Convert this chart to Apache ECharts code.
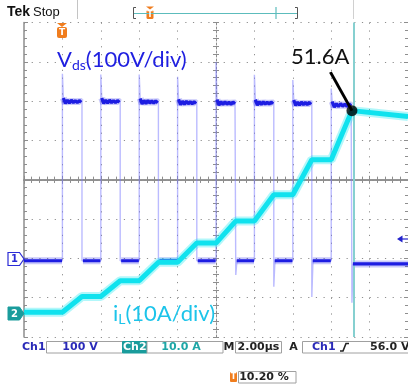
<!DOCTYPE html>
<html><head><meta charset="utf-8">
<script src="https://cdn.jsdelivr.net/npm/echarts@6/dist/echarts.min.js"></script>
<style>html,body{margin:0;padding:0;background:#fff}#c{width:408px;height:385px}</style>
</head><body><div id="c"></div>
<script>
// ---- data ----
// time axis: 2 µs/div, 10 divisions
const timeMin = 0, timeMax = 20, timeDiv = 2;
// Ch1 (Vds, 100 V/div) switching pulses
const pulseStart = [2, 4, 6, 8, 10, 12, 14, 16];
const pulseEnd   = [3.02, 5.01, 7.0, 9.0, 11.03, 13.01, 14.99, 17.08];
const highV      = [399, 399, 398, 396, 395, 395, 394, 390];
const spikeTopV  = [470, 468, 468, 462, 500, 467, 454, 432];
const undershootV= [-6, -6, -6, -6, -42, -72, -98, -113];
const rippleV    = [9, -5, 4, -4, 4, -3, 3, -3, 3, -2];
const lowBeforeV = -6;
const lowAfterV  = -14;
// Ch2 (iL, 10 A/div)
const iTime  = [0, 2, 3.02, 4, 5.01, 6, 7.0, 8, 9.0, 10, 11.03, 12, 13.01, 14, 14.99, 16, 17.08, 20];
const iValue = [0.3, 0.3, 4.3, 4.3, 8.3, 8.3, 13.0, 13.0, 17.9, 17.9, 23.5, 23.5, 30.2, 30.2, 39.1, 39.1, 51.6, 50.1];
const peakPoint = [17.08, 51.6];
const peakLabel = '51.6A';
const cursorTime = 17.15;

// ---- build series tables ----
const vFaint = [[timeMin, lowBeforeV]];
const vThick = [[timeMin, lowBeforeV]];
for (let k = 0; k < pulseStart.length; k++) {
  const ts = pulseStart[k], te = pulseEnd[k];
  vFaint.push([ts, lowBeforeV], [ts, spikeTopV[k]]);
  vThick.push([ts - 0.02, lowBeforeV], [ts, '-']);
  const n = rippleV.length;
  for (let j = 0; j < n; j++) {
    const t = ts + 0.05 + j * (te - ts - 0.09) / (n - 1);
    const v = highV[k] + rippleV[j];
    vFaint.push([t, v]); vThick.push([t, v]);
  }
  const lowNext = (k === pulseStart.length - 1) ? lowAfterV : lowBeforeV;
  vFaint.push([te, highV[k]], [te, undershootV[k]], [te + 0.06, lowNext]);
  vThick.push([te, '-'], [te + 0.05, lowNext]);
}
vFaint.push([timeMax, lowAfterV]);
vThick.push([timeMax, lowAfterV]);
const iData = iTime.map((t, i) => [t, iValue[i]]);

const GL = 24, GT = 22.6, GW = 384, GH = 314.4;
const gridCol = '#8e8e8e';
const hid = (g) => ({ type: 'value', gridIndex: g, show: false, min: 0, max: 1 });

const chart = echarts.init(document.getElementById('c'), null, { renderer: 'canvas' });
const option = {
  animation: false,
  backgroundColor: '#fff',
  grid: [
    { left: GL, top: GT, width: GW, height: GH },
    { left: GL, top: GT, width: GW, height: GH / 2 },
    { left: GL, top: GT + GH / 2, width: GW, height: GH / 2 },
    { left: GL, top: GT, width: GW / 2, height: GH },
    { left: GL + GW / 2, top: GT, width: GW / 2, height: GH }
  ],
  xAxis: [
    { type: 'value', gridIndex: 0, min: timeMin, max: timeMax, interval: timeDiv, position: 'bottom',
      axisLine: { show: true, lineStyle: { color: gridCol, width: 1.5 } },
      axisTick: { show: true, inside: true, length: 4, lineStyle: { color: gridCol } },
      minorTick: { show: true, splitNumber: 5, length: 3, lineStyle: { color: gridCol } },
      axisLabel: { show: false },
      splitLine: { show: true, lineStyle: { color: gridCol, width: 1, type: [1.2, 6.66] } } },
    { type: 'value', gridIndex: 0, min: timeMin, max: timeMax, interval: timeDiv, position: 'top',
      axisLine: { show: true, lineStyle: { color: gridCol, width: 1.5 } },
      axisTick: { show: true, inside: true, length: 4, lineStyle: { color: gridCol } },
      minorTick: { show: true, splitNumber: 5, length: 3, lineStyle: { color: gridCol } },
      axisLabel: { show: false }, splitLine: { show: false } },
    { type: 'value', gridIndex: 1, min: timeMin, max: timeMax, interval: timeDiv, position: 'bottom',
      axisLine: { show: true, onZero: false, lineStyle: { color: gridCol, width: 1, type: [2, 2] } },
      axisTick: { show: true, inside: true, length: 3, lineStyle: { color: gridCol } },
      minorTick: { show: true, splitNumber: 5, length: 3, lineStyle: { color: gridCol } },
      axisLabel: { show: false }, splitLine: { show: false } },
    { type: 'value', gridIndex: 2, min: timeMin, max: timeMax, interval: timeDiv, position: 'top',
      axisLine: { show: false, onZero: false },
      axisTick: { show: true, inside: true, length: 3, lineStyle: { color: gridCol } },
      minorTick: { show: true, splitNumber: 5, length: 3, lineStyle: { color: gridCol } },
      axisLabel: { show: false }, splitLine: { show: false } },
    hid(3), hid(4)
  ],
  yAxis: [
    { type: 'value', gridIndex: 0, min: -4, max: 4, interval: 1, position: 'left',
      axisLine: { show: true, onZero: false, lineStyle: { color: gridCol, width: 1.5 } },
      axisTick: { show: true, inside: true, length: 4, lineStyle: { color: gridCol } },
      minorTick: { show: true, splitNumber: 5, length: 3, lineStyle: { color: gridCol } },
      axisLabel: { show: false },
      splitLine: { show: true, lineStyle: { color: gridCol, width: 1, type: [1.2, 6.48] } } },
    { type: 'value', gridIndex: 0, min: -4, max: 4, interval: 1, position: 'right',
      axisLine: { show: false, onZero: false },
      axisTick: { show: true, inside: true, length: 4, lineStyle: { color: gridCol } },
      minorTick: { show: true, splitNumber: 5, length: 3, lineStyle: { color: gridCol } },
      axisLabel: { show: false }, splitLine: { show: false } },
    { type: 'value', gridIndex: 0, min: -200, max: 600, show: false },
    { type: 'value', gridIndex: 0, min: -6, max: 74, show: false },
    hid(1), hid(2),
    { type: 'value', gridIndex: 3, min: -4, max: 4, interval: 1, position: 'right',
      axisLine: { show: true, onZero: false, lineStyle: { color: gridCol, width: 1, type: [2, 2] } },
      axisTick: { show: true, inside: true, length: 3, lineStyle: { color: gridCol } },
      minorTick: { show: true, splitNumber: 5, length: 3, lineStyle: { color: gridCol } },
      axisLabel: { show: false }, splitLine: { show: false } },
    { type: 'value', gridIndex: 4, min: -4, max: 4, interval: 1, position: 'left',
      axisLine: { show: false, onZero: false },
      axisTick: { show: true, inside: true, length: 3, lineStyle: { color: gridCol } },
      minorTick: { show: true, splitNumber: 5, length: 3, lineStyle: { color: gridCol } },
      axisLabel: { show: false }, splitLine: { show: false } }
  ],
  series: [
    { type: 'line', xAxisIndex: 0, yAxisIndex: 2, data: [], z: 1, silent: true, symbol: 'none',
      markLine: { silent: true, symbol: 'none', label: { show: false },
        lineStyle: { color: '#86d0d0', width: 2, type: 'solid' },
        data: [{ xAxis: cursorTime }] } },
    { type: 'line', xAxisIndex: 0, yAxisIndex: 2, data: vFaint, z: 3, symbol: 'none', silent: true,
      lineStyle: { color: 'rgba(120,120,255,0.5)', width: 1.4 } },
    { type: 'line', xAxisIndex: 0, yAxisIndex: 2, data: vThick, z: 4, symbol: 'none', silent: true,
      lineStyle: { color: 'rgba(40,40,235,0.25)', width: 7 } },
    { type: 'line', xAxisIndex: 0, yAxisIndex: 2, data: vThick, z: 5, symbol: 'none', silent: true,
      lineStyle: { color: '#1d1de2', width: 3.2 } },
    { type: 'line', xAxisIndex: 0, yAxisIndex: 3, data: iData, z: 6, symbol: 'none', silent: true,
      lineStyle: { color: 'rgba(0,228,238,0.3)', width: 9 } },
    { type: 'line', xAxisIndex: 0, yAxisIndex: 3, data: iData, z: 7, symbol: 'none', silent: true,
      lineStyle: { color: '#10e2ee', width: 5 } },
    { type: 'scatter', xAxisIndex: 0, yAxisIndex: 3, data: [peakPoint], z: 12, symbol: 'circle',
      symbolSize: 11, itemStyle: { color: '#000' }, silent: true }
  ]
};
chart.setOption(option);

const p = chart.convertToPixel({ seriesIndex: 6 }, peakPoint);
const F = '"DejaVu Sans"';
const blue = '#2a2ab8', teal = '#1a9c9c', orange = '#f07d1e';
const txt = (x, y, text, fill, font, align) => ({ type: 'text', z: 50,
  style: { x, y, text, fill, font, align: align || 'left', verticalAlign: 'middle' } });
const rect = (x, y, w, h, fill, stroke, r) => ({ type: 'rect', z: 40,
  shape: { x, y, width: w, height: h, r: r || 0 }, style: { fill: fill, stroke: stroke || null, lineWidth: 1 } });
const line = (x1, y1, x2, y2, stroke, w) => ({ type: 'line', z: 45,
  shape: { x1, y1, x2, y2 }, style: { stroke, lineWidth: w || 1 } });

const graphic = [
  // top bar
  txt(7, 12, 'Tek', '#111', 'bold 14px "Liberation Sans"'),
  txt(33, 12, 'Stop', '#111', '13px "Liberation Sans"'),
  line(77.5, 0, 77.5, 19, '#c4c4c4', 1),
  line(353.5, 0, 353.5, 19, '#d0d0d0', 1),
  line(134, 13.5, 297, 13.5, '#5cbcbc', 1.2),
  { type: 'polyline', z: 45, shape: { points: [[136, 7.5], [133.5, 7.5], [133.5, 18.5], [136, 18.5]] }, style: { stroke: '#555', lineWidth: 1, fill: null } },
  { type: 'polyline', z: 45, shape: { points: [[295, 7.5], [297.5, 7.5], [297.5, 18.5], [295, 18.5]] }, style: { stroke: '#555', lineWidth: 1, fill: null } },
  line(276, 7, 276, 19, '#5cbcbc', 1.2),
  { type: 'polygon', z: 46, shape: { points: [[146, 6.5], [154, 6.5], [150, 9.5]] }, style: { fill: orange } },
  rect(146.5, 10, 7, 9, orange, null, 1.5),
  txt(150, 14.5, 'T', '#fff', 'bold 8px ' + F, 'center'),
  // trigger position marker at plot top
  { type: 'polygon', z: 46, shape: { points: [[57, 23], [67, 23], [62, 27]] }, style: { fill: orange } },
  rect(57, 27, 10, 11, orange, null, 2),
  txt(62, 32.5, 'T', '#fff', 'bold 9px ' + F, 'center'),
  // channel ground markers
  { type: 'polygon', z: 46, shape: { points: [[8, 252.5], [19.5, 252.5], [24, 259], [19.5, 265.5], [8, 265.5]] }, style: { fill: '#fff', stroke: '#2b2bd6', lineWidth: 1.2 } },
  txt(14.5, 259.5, '1', '#2b2bd6', 'bold 10px ' + F, 'center'),
  { type: 'polygon', z: 46, shape: { points: [[8, 307], [19.5, 307], [24, 313.5], [19.5, 320], [8, 320]] }, style: { fill: teal, stroke: teal, lineWidth: 1 } },
  txt(14.5, 314, '2', '#fff', 'bold 10px ' + F, 'center'),
  // trigger level marker
  { type: 'polygon', z: 46, shape: { points: [[397, 239], [402.5, 235.5], [402.5, 242.5]] }, style: { fill: '#2323cc' } },
  line(402, 239, 408, 239, '#2323cc', 1.2),
  // status bar
  txt(22, 347.5, 'Ch1', blue, 'bold 11px ' + F),
  rect(46.5, 341.5, 76, 11.5, '#fff', '#a0a0a0'),
  txt(80, 347.5, '100 V', blue, 'bold 11px ' + F, 'center'),
  rect(122.5, 341.5, 24.5, 11.5, teal, teal),
  txt(134.8, 347.5, 'Ch2', '#fff', 'bold 11px ' + F, 'center'),
  rect(147, 341.5, 76, 11.5, '#fff', '#a0a0a0'),
  txt(181, 347.5, '10.0 A', '#1ea6a6', 'bold 11px ' + F, 'center'),
  txt(229, 347.5, 'M', '#222', 'bold 11px ' + F, 'center'),
  rect(235.5, 341.5, 46, 11.5, '#fff', '#a0a0a0'),
  txt(258.5, 347.5, '2.00µs', '#222', 'bold 11px ' + F, 'center'),
  txt(293.5, 347.5, 'A', '#222', 'bold 11px ' + F, 'center'),
  rect(302.5, 341.5, 110, 11.5, '#fff', '#a0a0a0'),
  txt(312, 347.5, 'Ch1', blue, 'bold 11px ' + F),
  { type: 'polyline', z: 46, shape: { points: [[340, 351], [343, 351], [346, 343.5], [349, 343.5]] }, style: { stroke: '#222', lineWidth: 1.6, fill: null } },
  txt(370, 347.5, '56.0 V', '#222', 'bold 11px ' + F),
  rect(230, 372, 7, 10, orange, null, 1),
  txt(233.5, 377.3, 'T', '#fff', 'bold 8px ' + F, 'center'),
  rect(238.5, 371.5, 57.5, 11.5, '#fff', '#a0a0a0'),
  txt(264, 377.3, '10.20 %', '#222', 'bold 11px ' + F, 'center'),
  // annotations
  { type: 'text', z: 50, style: { x: 57, y: 60, verticalAlign: 'middle', align: 'left',
      text: '{a|V}{b|ds}{a|(100V/div)}',
      rich: { a: { fontSize: 22, fontFamily: 'Lato', fill: '#1f1fe0' },
              b: { fontSize: 14, fontFamily: 'Lato', fill: '#1f1fe0', padding: [10, 0, 0, 0] } } } },
  { type: 'text', z: 50, style: { x: 113, y: 314, verticalAlign: 'middle', align: 'left',
      text: '{a|i}{b|L}{a|(10A/div)}',
      rich: { a: { fontSize: 22, fontFamily: 'Lato', fill: '#1cc4ea' },
              b: { fontSize: 14, fontFamily: 'Lato', fill: '#1cc4ea', padding: [10, 0, 0, 0] } } } },
  txt(291, 56.5, peakLabel, '#111', '22px Lato'),
  line(p[0] - 21.5, p[1] - 38.5, p[0], p[1], '#000', 3)
];
chart.setOption({ graphic });
</script>
</body></html>
